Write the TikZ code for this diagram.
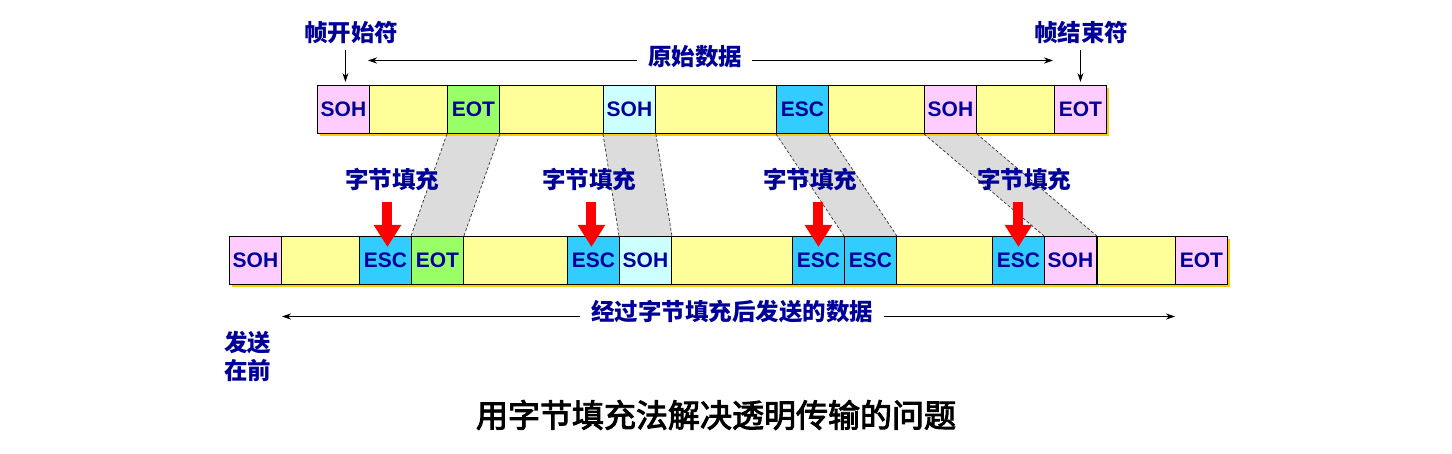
\documentclass[tikz,border=0pt]{standalone}
\usepackage{fontspec}
\setmainfont{Liberation Sans}
\newfontfamily\cjk{Noto Sans CJK SC}
\newfontfamily\cjkm{Noto Sans CJK SC}[FakeBold=3]
\usetikzlibrary{arrows.meta,shadows,backgrounds}
\definecolor{pinkc}{HTML}{FFCCFF}
\definecolor{yelc}{HTML}{FFFF99}
\definecolor{greenc}{HTML}{99FF66}
\definecolor{cyanc}{HTML}{33CCFF}
\definecolor{lcyanc}{HTML}{CCFFFF}
\definecolor{goldc}{HTML}{FFCC00}
\definecolor{bandc}{HTML}{DCDCDC}
\definecolor{navyc}{HTML}{000099}
\tikzset{
  cell/.style={draw=black, line width=0.9pt, minimum width=52pt, minimum height=48pt,
    inner sep=0pt, anchor=north west, text=navyc,
    font=\fontsize{21}{24}\selectfont\bfseries,
    drop shadow={shadow xshift=3pt, shadow yshift=-3pt, fill=goldc, opacity=1, draw=none}},
  sohp/.style={cell, fill=pinkc},
  sohc/.style={cell, fill=lcyanc},
  eotg/.style={cell, fill=greenc},
  eotp/.style={cell, fill=pinkc},
  escc/.style={cell, fill=cyanc},
  yelcell/.style={cell, fill=yelc},
  lbl/.style={text=navyc, inner sep=0pt, font=\cjk\bfseries\fontsize{23.5}{28}\selectfont},
  thinarr/.style={draw=black, line width=0.8pt, -{Stealth[length=9pt,width=6pt]}},
  redarr/.style={draw=red, line width=10pt, -{Triangle[width=26pt,length=22pt]}},
  band/.style={fill=bandc},
  dashline/.style={draw=black!80, line width=0.7pt, dash pattern=on 3pt off 2pt}
}
\begin{document}
\begin{tikzpicture}[x=1pt,y=-1pt]
\useasboundingbox (0,0) rectangle (1452,454);
% top row
\node[sohp] (t1) at (317,85) {SOH};
\node[yelcell, minimum width=78pt] (t2) at (369,85) {};
\node[eotg] (t3) at (447,85) {EOT};
\node[yelcell, minimum width=104pt] (t4) at (499,85) {};
\node[sohc] (t5) at (603,85) {SOH};
\node[yelcell, minimum width=121pt] (t6) at (655,85) {};
\node[escc] (t7) at (776,85) {ESC};
\node[yelcell, minimum width=96pt] (t8) at (828,85) {};
\node[sohp] (t9) at (924,85) {SOH};
\node[yelcell, minimum width=78pt] (t10) at (976,85) {};
\node[eotp] (t11) at (1054,85) {EOT};
% bottom row
\node[sohp] (b1) at (229,236) {SOH};
\node[yelcell, minimum width=78pt] (b2) at (281,236) {};
\node[escc] (b3) at (359,236) {ESC};
\node[eotg] (b4) at (411,236) {EOT};
\node[yelcell, minimum width=104pt] (b5) at (463,236) {};
\node[escc] (b6) at (567,236) {ESC};
\node[sohc] (b7) at (619,236) {SOH};
\node[yelcell, minimum width=121pt] (b8) at (671,236) {};
\node[escc] (b9) at (792,236) {ESC};
\node[escc] (b10) at (844,236) {ESC};
\node[yelcell, minimum width=96pt] (b11) at (896,236) {};
\node[escc] (b12) at (992,236) {ESC};
\node[sohp] (b13) at (1044,236) {SOH};
\node[yelcell, minimum width=78pt] (b14) at (1097,236) {};
\node[eotp] (b15) at (1175,236) {EOT};
% bands
\begin{scope}[on background layer]
\foreach \a/\b in {t3/b4, t5/b7, t7/b10, t9/b13}{
  \fill[band] (\a.south west) -- (\a.south east) -- (\b.north east) -- (\b.north west) -- cycle;
}
\end{scope}
\foreach \a/\b in {t3/b4, t5/b7, t7/b10, t9/b13}{
  \draw[dashline] (\a.south west) -- (\b.north west);
  \draw[dashline] (\a.south east) -- (\b.north east);
}
% labels
\node[lbl] (f1) at (392,180) {字节填充};
\node[lbl] (f2) at (589,180) {字节填充};
\node[lbl] (f3) at (810,180) {字节填充};
\node[lbl] (f4) at (1024,180) {字节填充};
% red arrows
\draw[redarr] ([xshift=2pt,yshift=34pt]b3.north) -- ([xshift=2pt,yshift=-11pt]b3.north);
\draw[redarr] ([xshift=-2pt,yshift=34pt]b6.north) -- ([xshift=-2pt,yshift=-11pt]b6.north);
\draw[redarr] ([yshift=34pt]b9.north) -- ([yshift=-11pt]b9.north);
\draw[redarr] ([yshift=34pt]b12.north) -- ([yshift=-11pt]b12.north);
% top labels
\node[lbl] (s1) at (351,33) {帧开始符};
\node[lbl] (s2) at (1081,33) {帧结束符};
\draw[thinarr] ([xshift=2pt,yshift=35pt]t1.north) -- ([xshift=2pt,yshift=3pt]t1.north);
\draw[thinarr] ([yshift=35pt]t11.north) -- ([yshift=3pt]t11.north);
\node[lbl] (d1) at (695,57) {原始数据};
\coordinate (dL) at (368,60.5);
\coordinate (dR) at (1053,60.5);
\draw[thinarr] ([xshift=-11pt]d1.west |- dL) -- (dL);
\draw[thinarr] ([xshift=10pt]d1.east |- dR) -- (dR);
% bottom label
\node[lbl] (e1) at (732,312) {经过字节填充后发送的数据};
\coordinate (eL) at (282,316.5);
\coordinate (eR) at (1175,316.5);
\draw[thinarr] ([xshift=-11pt]e1.west |- eL) -- (eL);
\draw[thinarr] ([xshift=11pt]e1.east |- eR) -- (eR);
\node[lbl, align=left, anchor=north west] (g1) at (224,331) {发送\\在前};
% title
\node[inner sep=0pt, font=\cjkm\fontsize{32}{36}\selectfont] (ttl) at (716,415) {用字节填充法解决透明传输的问题};
\end{tikzpicture}
\end{document}
